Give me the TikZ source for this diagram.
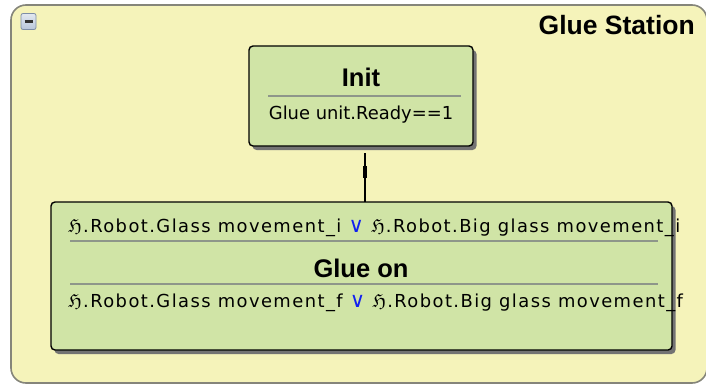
\documentclass[tikz,border=0pt]{standalone}
\usepackage{fontspec}
\setmainfont{DejaVu Sans}
\newfontfamily\titlefont{Liberation Sans}[BoldFont={Liberation Sans Bold}]
\newfontfamily\widefont{DejaVu Sans}[LetterSpace=8.0]
\usetikzlibrary{shadows}

\definecolor{stationfill}{HTML}{F5F3BA}
\definecolor{stationedge}{HTML}{85857A}
\definecolor{stepfill}{HTML}{D0E4A6}
\definecolor{sepgray}{HTML}{8E968A}
\definecolor{iconfill}{HTML}{B8C6DA}
\definecolor{iconedge}{HTML}{7D8DA6}
\definecolor{orblue}{HTML}{1020F0}

\tikzset{
  stepbox/.style={draw=black, line width=1.4pt, fill=stepfill, rounded corners=4pt,
    inner sep=0pt, outer sep=0pt,
    drop shadow={shadow xshift=3.5pt, shadow yshift=-4pt, fill=black!55, opacity=1}},
  steptitle/.style={font=\titlefont\bfseries\fontsize{25.5}{28}\selectfont, inner sep=0pt, anchor=base},
  steptext/.style={font=\fontsize{17.9}{20}\selectfont, inner sep=0pt},
  widetext/.style={font=\widefont\fontsize{17.9}{20}\selectfont, inner sep=0pt},
  separator/.style={draw=sepgray, line width=1.4pt},
  link/.style={draw=black, line width=2.8pt},
}

\newcommand{\frakH}{ℌ}
\newcommand{\orsym}{{\color{orblue}\fontsize{21}{20}\selectfont ∨}}

\begin{document}
\begin{tikzpicture}[x=1pt, y=-1pt]
  \useasboundingbox (0,0) rectangle (706,385);

  % station container
  \begin{scope}
    \clip (0,0) rectangle (706,385);
    \draw[draw=stationedge, line width=1.6pt, fill=stationfill, rounded corners=15pt]
      (11,5) rectangle (707,383);
  \end{scope}

  % collapse icon
  \node[draw=iconedge, line width=0.8pt, rounded corners=2pt, top color=iconfill!40, bottom color=iconfill,
        minimum width=15pt, minimum height=16pt, inner sep=0pt] (collapse) at (28.5,21.5) {};
  \draw[line width=2.4pt, black!80] ([xshift=-4pt]collapse.center) -- ([xshift=4pt]collapse.center);

  % station title
  \node[font=\titlefont\bfseries\fontsize{26.5}{29}\selectfont, inner sep=0pt, anchor=base east]
    (stationtitle) at (695,35) {Glue Station};

  % Init step
  \node[stepbox, minimum width=224pt, minimum height=100pt] (init) at (361,96) {};
  \node[steptitle] (inittitle) at (361,87) {Init};
  \draw[separator] (268,96) -- (461,96);
  \node[steptext, anchor=base] (initcond) at (361,120) {Glue unit.Ready==1};

  % Glue on step
  \node[stepbox, minimum width=621pt, minimum height=148pt] (glueon) at (361.5,276) {};
  \node[widetext, anchor=base west] (entrycond) at (68,232)
    {\frakH.Robot.Glass movement\_i \orsym\ \frakH.Robot.Big glass movement\_i};
  \draw[separator] (70,241) -- (658,241);
  \node[steptitle] (gluetitle) at (361,277) {Glue on};
  \draw[separator] (70,284) -- (658,284);
  \node[widetext, anchor=base west] (exitcond) at (68,307)
    {\frakH.Robot.Glass movement\_f \orsym\ \frakH.Robot.Big glass movement\_f};

  % transition between the steps
  \coordinate (linktop) at ([xshift=4pt, yshift=-7pt]init.south);
  \coordinate (linkbot) at ([xshift=4pt]init.south |- glueon.north);
  \draw[link] (linktop) -- (linkbot);
  \draw[line width=3.8pt] ([yshift=-13pt]linktop) -- ([yshift=-25pt]linktop);
\end{tikzpicture}
\end{document}
